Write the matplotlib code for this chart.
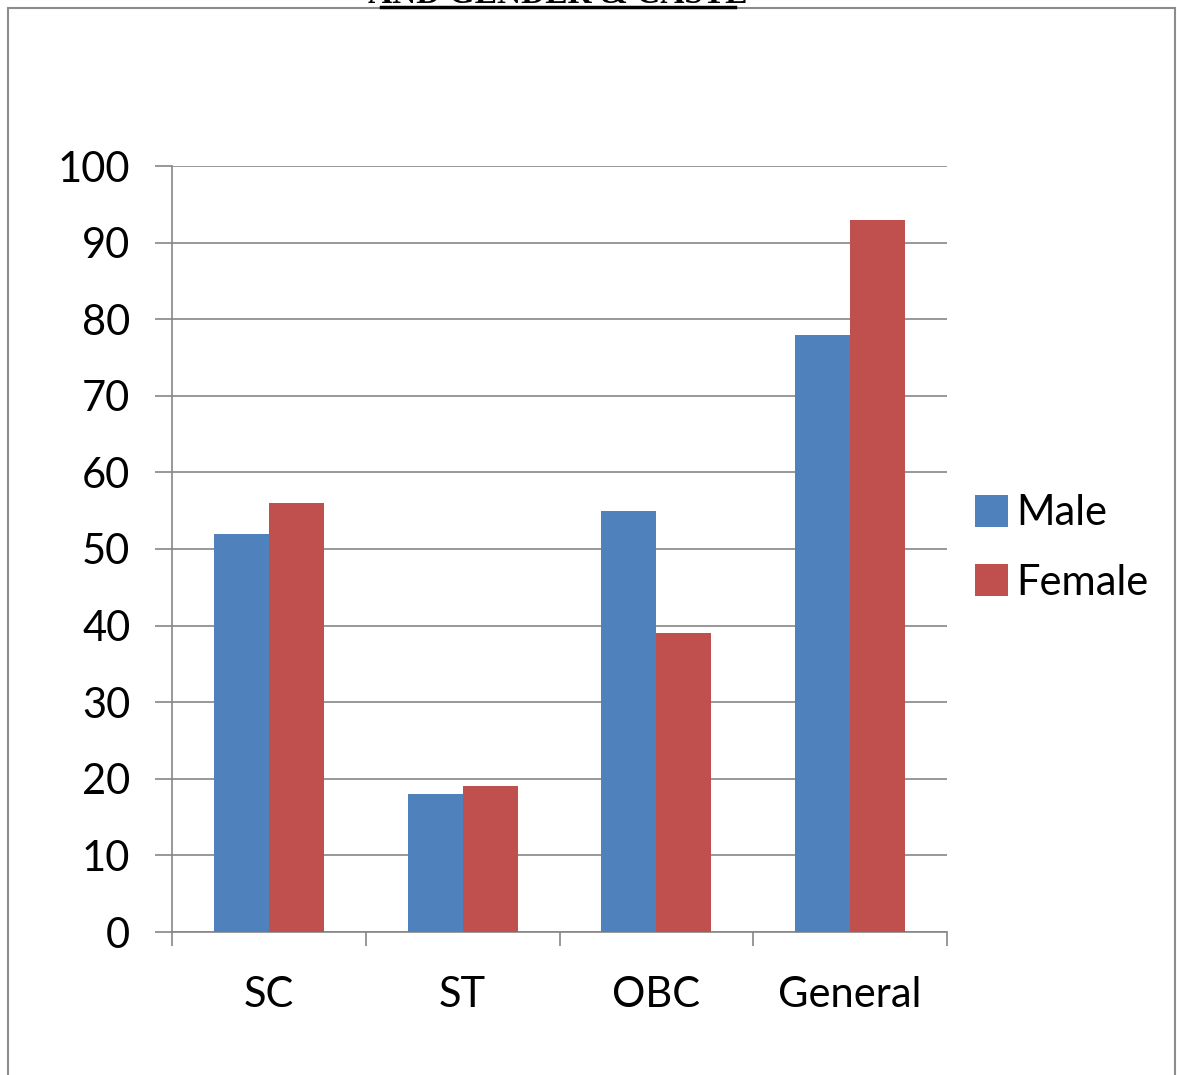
import matplotlib
matplotlib.use("Agg")
import matplotlib.pyplot as plt
from matplotlib.patches import Rectangle
import numpy as np

categories = ["SC", "ST", "OBC", "General"]
male = [52, 18, 55, 78]
female = [56, 19, 39, 93]
yticks = [0, 10, 20, 30, 40, 50, 60, 70, 80, 90, 100]

plt.rcParams['font.family'] = ['Lato', 'DejaVu Sans']

W, H = 1177, 1075
fig = plt.figure(figsize=(W/100, H/100), dpi=100)

# outer frame
fig.add_artist(Rectangle((8/W, -0.05), (1175-8)/W, (H-8)/H + 0.05, transform=fig.transFigure,
                         fill=False, edgecolor="#8c8c8c", linewidth=1.5))

# cut-off title (only its lowest part shows at the top edge)
fig.text(558/W, (H-3)/H, "AND GENDER & CASTE", ha="center", va="baseline",
         fontsize=24, fontweight="bold", family="Liberation Serif")
fig.add_artist(plt.Line2D([381/W, 735/W], [(H-7)/H, (H-7)/H], transform=fig.transFigure,
                          color="black", linewidth=2.5))

ax = fig.add_axes([172/W, 143/H, (947-172)/W, (932-166)/H])
x = np.arange(len(categories)) + 0.5
bw = 55/194
ax.bar(x - bw/2, male, bw, color="#4F81BD", label="Male", zorder=3)
ax.bar(x + bw/2, female, bw, color="#C0504D", label="Female", zorder=3)

ax.set_xlim(0, 4)
ax.set_ylim(0, 100)
ax.set_yticks(yticks)
ax.set_yticklabels([str(v) for v in yticks], fontsize=30)
ax.set_xticks([0, 1, 2, 3, 4])
ax.set_xticklabels([])
ax.set_xticks(x, minor=True)
ax.set_xticklabels(categories, minor=True, fontsize=30)
ax.tick_params(axis="x", which="minor", length=0, pad=32)
ax.tick_params(axis="x", which="major", length=10, color="#868686", width=1.2, direction="out")
ax.tick_params(axis="y", length=12, color="#868686", width=1.2, pad=18)
ax.yaxis.grid(True, color="#868686", linewidth=1.2, zorder=0)
for s in ["top", "right"]:
    ax.spines[s].set_visible(False)
for s in ["left", "bottom"]:
    ax.spines[s].set_color("#868686")
    ax.spines[s].set_linewidth(1.2)

leg = fig.legend(loc="center left", bbox_to_anchor=(958/W, (H-548)/H), frameon=False,
                 fontsize=30, handlelength=0.8, handleheight=0.8, handletextpad=0.2,
                 labelspacing=0.75, borderaxespad=0)

fig.savefig("out.png", dpi=100)
